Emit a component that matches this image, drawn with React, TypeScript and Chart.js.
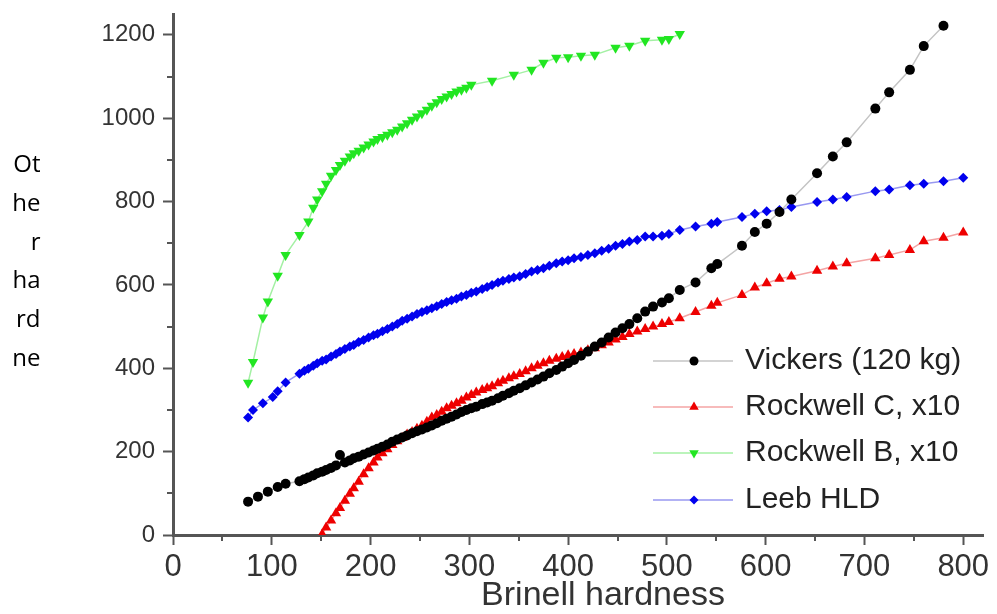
import React, { useEffect, useRef } from "react";
import { Chart, registerables } from "chart.js";

Chart.register(...registerables);

// Brinell hardness (shared x values)
const brinell = [
  76, 81, 86, 91, 96, 101, 106, 110, 114,
  128, 133, 137, 142, 146, 151, 155, 160, 165, 169,
  174, 179, 183, 188, 193, 198, 203, 207, 212, 217,
  222, 227, 232, 237, 242, 247, 252, 257, 262, 267,
  272, 277, 282, 287, 292, 297, 302, 307, 313, 318,
  323, 329, 334, 340, 345, 351, 357, 363, 369, 375,
  381, 388, 394, 400, 406, 413, 420, 427, 434, 441,
  448, 455, 462, 470, 478, 486, 495, 502, 513, 529,
  545, 551, 576, 589, 601, 614, 626, 652, 668, 682,
  711, 725, 746, 760, 780, 800,
];

const vickers = [
  80, null, 92, null, 104, null, 115, null, 123,
  129, 134, 138, 143, 148, 152, 156, 161, 167, 192,
  174, 179, 184, 188, 193, 198, 203, 207, 212, 217,
  224, 229, 234, 239, 244, 249, 253, 258, 263, 268,
  274, 279, 284, 289, 295, 300, 304, 308, 314, 318,
  322, 328, 334, 340, 346, 352, 359, 366, 373, 380,
  388, 396, 404, 412, 420, 430, 440, 452, 462, 474,
  486, 496, 506, 520, 536, 548, 558, 568, 588, 606,
  640, 650, 694, 727, 747, 775, 805, 868, 908, 942,
  1023, 1062, 1116, 1173, 1222, null,
];

const rockwellC = [
  null, null, null, null, null, null, null, null, null,
  null, null, null, null, null, 2, 18, 35, 52, 65,
  82, 99, 112, 128, 146, 160, 174, 186, 196, 206,
  216, 225, 233, 241, 247, 255, 262, 272, 282, 288,
  296, 304, 310, 316, 322, 330, 336, 342, 348, 352,
  357, 364, 370, 376, 381, 386, 393, 400, 406, 412,
  418, 423, 427, 431, 434, 438, 443, 448, 455, 462,
  469, 475, 482, 488, 494, 500, 506, 511, 520, 535,
  550, 557, 576, 594, 604, 615, 620, 634, 644, 652,
  664, 672, 684, 705, 713, 726,
];

const rockwellB = [
  365, 415, null, 522, 560, null, 622, null, 672,
  720, null, 752, 785, 805, 825, 843, 862, 876, 888,
  898, 908, 916, 922, 930, 937, 944, 950, 955, 960,
  966, 972, 980, 988, 996, 1004, 1012, 1020, 1030, 1038,
  1046, 1052, 1058, 1064, 1068, 1073, 1080, null, null, null,
  1090, null, null, null, 1104, null, null, 1116, null, 1133,
  null, 1145, null, 1146, null, 1150, null, 1152, null, null,
  1169, null, 1174, null, 1186, null, 1188, 1190, 1202, null,
  null, null, null, null, null, null, null, null, null, null,
  null, null, null, null, null, null,
];

const leebHLD = [
  282, 300, null, 316, null, 331, 345, null, 366,
  387, 394, 399, 406, 412, 418, 421, 428, 434, 440,
  446, 452, 456, 463, 468, 474, 479, 483, 489, 494,
  500, 506, 514, 519, 524, 530, 535, 539, 544, 549,
  554, 559, 563, 567, 572, 576, 581, 584, 590, 595,
  600, 606, 610, 614, 618, 621, 626, 632, 636, 640,
  646, 652, 656, 659, 664, 667, 672, 676, 682, 687,
  694, 698, 704, 708, 716, 716, 718, 722, 732, 740,
  747, 751, 763, 771, 777, 780, 787, 799, 805, 811,
  825, 829, 839, 843, 849, 857,
];

const seriesNames = ["Vickers (120 kg)", "Rockwell C, x10", "Rockwell B, x10", "Leeb HLD"];

const xTickValues = [0, 100, 200, 300, 400, 500, 600, 700, 800];
const xMinorTicks = [50, 150, 250, 350, 450, 550, 650, 750];
const yTickValues = [0, 200, 400, 600, 800, 1000, 1200];
const yMinorTicks = [100, 300, 500, 700, 900, 1100];

const FONT = '"Liberation Sans", Arial, Helvetica, sans-serif';
const AXIS = "#555555";
const TEXT = "#333333";

type Marker = { style: string; radius: number; rotation: number; color: string; line: string };

const markers: Marker[] = [
  { style: "circle", radius: 5, rotation: 0, color: "#000000", line: "#c4c4c4" },
  { style: "triangle", radius: 6, rotation: 0, color: "#ee0000", line: "#f4a4a4" },
  { style: "triangle", radius: 6, rotation: 180, color: "#22e622", line: "#a4f0a4" },
  { style: "rectRot", radius: 5, rotation: 0, color: "#0000ee", line: "#9898f0" },
];

const toPoints = (ys: (number | null)[]) =>
  brinell.map((x, i) => ({ x, y: ys[i] })).filter((p) => p.y !== null) as { x: number; y: number }[];

function drawMarker(ctx: CanvasRenderingContext2D, m: Marker, x: number, y: number) {
  const r = m.radius;
  ctx.beginPath();
  if (m.style === "circle") {
    ctx.arc(x, y, r, 0, Math.PI * 2);
  } else if (m.style === "triangle") {
    const s = m.rotation ? -1 : 1;
    ctx.moveTo(x, y - s * r);
    ctx.lineTo(x + r * 0.866, y + s * r * 0.5);
    ctx.lineTo(x - r * 0.866, y + s * r * 0.5);
    ctx.closePath();
  } else {
    ctx.moveTo(x - r, y);
    ctx.lineTo(x, y - r);
    ctx.lineTo(x + r, y);
    ctx.lineTo(x, y + r);
    ctx.closePath();
  }
  ctx.fillStyle = m.color;
  ctx.fill();
}

const minorTickPlugin = {
  id: "minorTicks",
  afterDraw(chart: any) {
    const { ctx, chartArea, scales } = chart;
    ctx.save();
    ctx.strokeStyle = AXIS;
    ctx.lineWidth = 2;
    ctx.beginPath();
    xMinorTicks.forEach((v) => {
      const px = Math.round(scales.x.getPixelForValue(v));
      ctx.moveTo(px, chartArea.bottom);
      ctx.lineTo(px, chartArea.bottom + 6);
    });
    yMinorTicks.forEach((v) => {
      const py = Math.round(scales.y.getPixelForValue(v));
      ctx.moveTo(chartArea.left, py);
      ctx.lineTo(chartArea.left - 6, py);
    });
    ctx.stroke();
    ctx.restore();
  },
};

const legendRows = [347, 393, 439, 486];

const lineLegendPlugin = {
  id: "lineLegend",
  afterDraw(chart: any) {
    const { ctx, chartArea } = chart;
    ctx.save();
    chart.data.datasets.forEach((ds: any, i: number) => {
      const m = markers[i];
      const y = chartArea.top + legendRows[i];
      const x0 = chartArea.left + 480;
      const x1 = chartArea.left + 560;
      const xm = chartArea.left + 521;
      ctx.strokeStyle = m.line;
      ctx.lineWidth = 1.5;
      ctx.beginPath();
      ctx.moveTo(x0, y);
      ctx.lineTo(x1, y);
      ctx.stroke();
      drawMarker(ctx, { ...m, radius: m.radius - 0.5 }, xm, y);
      ctx.fillStyle = "#222222";
      ctx.font = `30px ${FONT}`;
      ctx.textBaseline = "middle";
      ctx.textAlign = "left";
      ctx.fillText(ds.label, chartArea.left + 572, y);
    });
    ctx.restore();
  },
};

export default function App() {
  const ref = useRef<HTMLCanvasElement>(null);

  useEffect(() => {
    if (!ref.current) return;
    const seriesData = [vickers, rockwellC, rockwellB, leebHLD];
    const chart = new Chart(ref.current, {
      type: "line",
      data: {
        datasets: seriesData.map((ys, i) => ({
          label: seriesNames[i],
          data: toPoints(ys),
          borderColor: markers[i].line,
          borderWidth: 1.5,
          pointStyle: markers[i].style as any,
          pointRotation: markers[i].rotation,
          pointRadius: markers[i].radius,
          pointBackgroundColor: markers[i].color,
          pointBorderColor: markers[i].color,
          pointBorderWidth: 0,
          tension: 0,
          fill: false,
        })),
      },
      options: {
        responsive: false,
        animation: false,
        events: [],
        layout: { padding: { left: 0, right: 6, top: 3, bottom: 0 } },
        plugins: { legend: { display: false }, tooltip: { enabled: false } },
        scales: {
          x: {
            type: "linear",
            min: 0,
            max: 820,
            afterBuildTicks: (s: any) => {
              s.ticks = xTickValues.map((v) => ({ value: v }));
            },
            afterFit: (s: any) => {
              s.height = 71;
              s.paddingLeft = 0;
              s.paddingRight = 0;
            },
            ticks: {
              font: { family: FONT, size: 31 },
              color: TEXT,
              padding: 4,
              maxRotation: 0,
              autoSkip: false,
              callback: (v: any) => String(v),
            },
            grid: { display: true, drawOnChartArea: false, drawTicks: true, tickLength: 10, tickColor: AXIS, tickWidth: 2 },
            border: { display: true, color: AXIS, width: 3 },
            title: { display: false },
          },
          y: {
            type: "linear",
            min: 0,
            max: 1250,
            afterBuildTicks: (s: any) => {
              s.ticks = yTickValues.map((v) => ({ value: v }));
            },
            afterFit: (s: any) => {
              s.width = 165;
              s.paddingTop = 0;
              s.paddingBottom = 0;
            },
            ticks: {
              font: { family: FONT, size: 24 },
              color: TEXT,
              padding: 8,
              autoSkip: false,
              callback: (v: any) => String(v),
            },
            grid: { display: true, drawOnChartArea: false, drawTicks: true, tickLength: 10, tickColor: AXIS, tickWidth: 2 },
            border: { display: true, color: AXIS, width: 3 },
            title: { display: false },
          },
        },
      },
      plugins: [minorTickPlugin, lineLegendPlugin],
    } as any);
    return () => chart.destroy();
  }, []);

  return (
    <div style={{ position: "relative", width: 981, height: 598 }}>
      <canvas ref={ref} width={981} height={598} style={{ position: "absolute", left: 0, top: 0, width: 981, height: 598 }} />
      <div
        style={{
          position: "absolute",
          left: 3,
          top: 136,
          width: 29.5,
          height: 233,
          overflow: "hidden",
          fontFamily: '"Open Sans", "Noto Sans", sans-serif',
          fontSize: 24,
          lineHeight: "38.8px",
          textAlign: "right",
          wordBreak: "break-all",
          color: "#000",
        }}
      >
        Other hardness
      </div>
      <div
        style={{
          position: "absolute",
          left: 445,
          top: 568,
          width: 300,
          textAlign: "center",
          fontFamily: FONT,
          fontSize: 34,
          lineHeight: "34px",
          color: TEXT,
          whiteSpace: "nowrap",
        }}
      >
        Brinell hardness
      </div>
    </div>
  );
}
